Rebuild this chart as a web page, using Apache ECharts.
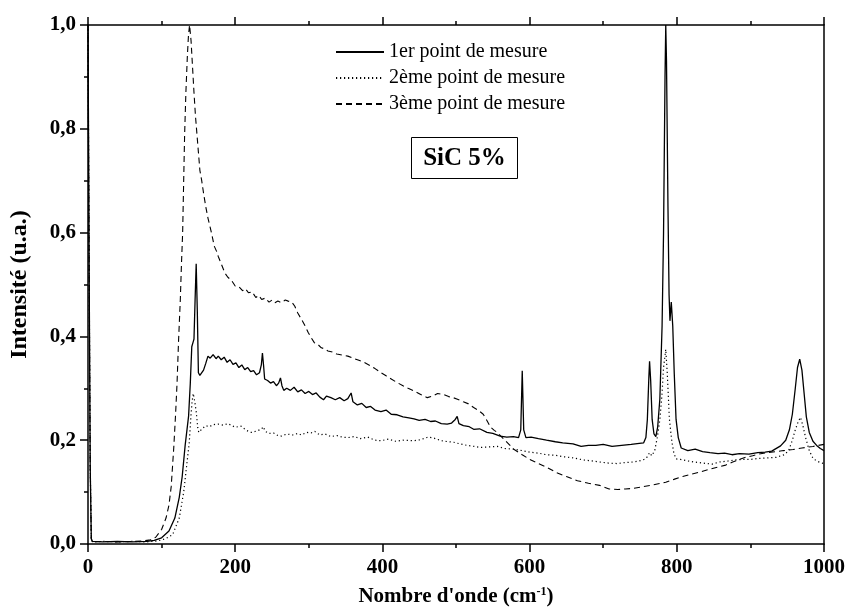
<!DOCTYPE html>
<html>
<head>
<meta charset="utf-8">
<script src="https://cdn.jsdelivr.net/npm/echarts@6/dist/echarts.min.js"></script>
<style>html,body{margin:0;padding:0;background:#fff}#c{width:848px;height:612px}</style>
</head>
<body>
<div id="c"></div>
<script>
// ---- data ----
const seriesNames = ['1er point de mesure', '2ème point de mesure', '3ème point de mesure'];
const xTicks = [0, 200, 400, 600, 800, 1000];
const yTicks = [0.0, 0.2, 0.4, 0.6, 0.8, 1.0];

const x1 = [0,1.5,3,4.5,6,20,40,60,80,90,100,110,118,124,128,132,136.7,139,141,143,144,145.5,147,148.5,150,152,154,157,160,163,166,170,174,177,181,185,189,193,197,201,205,209,213,217,221,225,229,233,235.5,237,238.5,240,244,248,252,256,259,261.5,263.5,266,270,275,280,285,290,295,300,305,310,315,320,324,330,336,342,348,353,357.5,360,366,372,378,384,390,398,405,412,420,428,436,443,450,458,465.5,472,480,488,494,499,501.6,504,510,518,524,532,542,550,560,569,578,585,588,590,592,595,602,612,623,635,645,659,670,680,690,700,712,725,738,749,755,758,760,762,763,764.5,766.5,769,771.5,774,777,780,782,784,785,786,788,789.5,790.7,792.5,794.5,796.5,799,802,806,815,825,835,845,856,865,875,885,898,910,920,929,941,948,953,957,961,964,967,970,973,976,980,985,990,995,1000];
const y1 = [1.0,0.55,0.15,0.01,0.005,0.004,0.005,0.004,0.005,0.007,0.012,0.025,0.05,0.09,0.13,0.19,0.247,0.31,0.38,0.39,0.395,0.47,0.54,0.45,0.33,0.325,0.322,0.335,0.348,0.362,0.358,0.365,0.357,0.362,0.355,0.36,0.35,0.355,0.346,0.349,0.34,0.345,0.336,0.34,0.332,0.334,0.326,0.33,0.345,0.368,0.345,0.318,0.315,0.31,0.313,0.305,0.31,0.32,0.305,0.296,0.3,0.296,0.302,0.293,0.297,0.29,0.294,0.288,0.291,0.283,0.278,0.285,0.282,0.278,0.282,0.276,0.28,0.291,0.274,0.268,0.271,0.263,0.265,0.258,0.255,0.258,0.25,0.249,0.245,0.243,0.241,0.238,0.24,0.236,0.237,0.232,0.231,0.233,0.24,0.246,0.232,0.228,0.226,0.221,0.222,0.215,0.213,0.208,0.206,0.207,0.205,0.22,0.334,0.22,0.205,0.206,0.203,0.2,0.197,0.195,0.193,0.188,0.19,0.19,0.192,0.188,0.19,0.192,0.194,0.195,0.205,0.24,0.32,0.352,0.315,0.24,0.212,0.207,0.225,0.28,0.42,0.6,0.9,1.0,0.93,0.65,0.48,0.43,0.466,0.42,0.33,0.24,0.205,0.185,0.18,0.183,0.178,0.176,0.174,0.175,0.172,0.174,0.173,0.176,0.177,0.179,0.189,0.2,0.22,0.25,0.3,0.34,0.356,0.335,0.29,0.245,0.215,0.198,0.19,0.184,0.18];

const x2 = [0,1.5,3,4.5,6,20,40,60,80,95,105,115,124,130,134,137.6,140,141.5,143,145,147,149,150.5,155,160,165,170,177,184,190,200,208,215,222,230,236,238,241,246,252,258,263,270,278,285,290,297,303,308,315,322,330,338,345,353,362,370,380,390,398,408,418,428,443,452,462,470,480,490,497,505,515,525,533,545,556,566,578,590,600,612,623,635,647,659,673,685,695,707,719,730,740,749,756,760,763,766,770,773.6,777,780,782,785,787,790,793,796,799,805,815,824,835,848,858,870,880,890,900,912,923,935,946,952,957,961,965,968,971,975,980,985,990,995,1000];
const y2 = [1.0,0.55,0.15,0.01,0.004,0.005,0.004,0.005,0.004,0.006,0.01,0.018,0.05,0.1,0.15,0.196,0.25,0.275,0.29,0.275,0.255,0.225,0.215,0.222,0.228,0.226,0.23,0.231,0.229,0.232,0.225,0.227,0.219,0.215,0.218,0.222,0.226,0.217,0.213,0.214,0.209,0.208,0.212,0.21,0.213,0.21,0.215,0.214,0.217,0.21,0.212,0.207,0.209,0.206,0.205,0.207,0.203,0.206,0.2,0.199,0.202,0.198,0.2,0.199,0.201,0.206,0.204,0.199,0.197,0.196,0.193,0.19,0.188,0.186,0.187,0.188,0.184,0.183,0.18,0.177,0.175,0.172,0.171,0.168,0.166,0.162,0.16,0.158,0.156,0.155,0.157,0.158,0.16,0.163,0.168,0.176,0.17,0.18,0.206,0.24,0.29,0.34,0.375,0.33,0.24,0.2,0.175,0.164,0.163,0.16,0.158,0.156,0.154,0.158,0.16,0.162,0.163,0.163,0.165,0.166,0.167,0.172,0.18,0.2,0.22,0.236,0.244,0.23,0.205,0.18,0.165,0.16,0.157,0.155];

const x3 = [0,1.5,3,4.5,6,20,40,60,75,85,92,100,106,110,113,116.5,119,121,123,125.4,127,128.6,130,131.3,133,135,136.5,138,140,142,144,146,148,150,152,154.5,157,160,163,166,168,171.5,175,177,181,186,190,195,200,205,210,214,218,223,228,232,236,241,246,250,254,258,263,268,272,277,281,285,290,295,299,303,307.5,312,317,322,326,332,338,345,353,360,368,375,383,390,398,405,412,420,428,435,443,452,461,468,475,483,490,496,502,510,517,524,530,537,542,547,552,556,565,572,578,590,600,612,623,636,650,665,680,695,708,720,730,740,752,765,775,785,797,808,818,830,842,855,866.5,876,885,893.5,903,911,922,935,945,958,970,985,1000];
const y3 = [1.0,0.55,0.15,0.01,0.004,0.005,0.004,0.005,0.006,0.008,0.013,0.028,0.05,0.075,0.11,0.185,0.25,0.31,0.39,0.47,0.54,0.6,0.7,0.79,0.87,0.94,0.98,1.0,0.97,0.92,0.87,0.825,0.79,0.755,0.72,0.7,0.676,0.65,0.628,0.61,0.598,0.574,0.563,0.554,0.54,0.522,0.514,0.508,0.497,0.496,0.488,0.492,0.484,0.486,0.475,0.479,0.471,0.474,0.466,0.47,0.465,0.468,0.465,0.47,0.468,0.466,0.458,0.445,0.433,0.42,0.408,0.398,0.388,0.385,0.378,0.376,0.372,0.37,0.366,0.364,0.362,0.358,0.354,0.35,0.344,0.338,0.33,0.324,0.318,0.311,0.305,0.3,0.295,0.288,0.282,0.285,0.29,0.288,0.284,0.282,0.279,0.274,0.27,0.263,0.258,0.25,0.238,0.225,0.219,0.215,0.202,0.192,0.183,0.172,0.163,0.155,0.148,0.138,0.13,0.122,0.117,0.113,0.106,0.105,0.106,0.107,0.11,0.113,0.116,0.119,0.125,0.13,0.134,0.138,0.143,0.148,0.152,0.158,0.163,0.167,0.17,0.173,0.176,0.178,0.18,0.182,0.185,0.188,0.192];

// ---- chart ----
const zip = (xs, ys) => xs.map((x, i) => [x, ys[i]]);
const FONT = 'Liberation Serif';
const chart = echarts.init(document.getElementById('c'), null, {renderer: 'canvas'});

const lineStyles = [
  {color: '#000', width: 1.3, type: 'solid'},
  {color: '#000', width: 1.2, type: [1.2, 2.8]},
  {color: '#000', width: 1.1, type: [6, 4]}
];
const series = [zip(x1, y1), zip(x2, y2), zip(x3, y3)].map((d, i) => ({
  name: seriesNames[i],
  type: 'line',
  data: d,
  symbol: 'none',
  showSymbol: false,
  lineStyle: lineStyles[i],
  itemStyle: {color: '#000'},
  emphasis: {disabled: true},
  animation: false,
  z: 3 - i
}));

const axisLine = {show: true, onZero: false, lineStyle: {color: '#000', width: 1.5}};
chart.setOption({
  animation: false,
  backgroundColor: '#fff',
  grid: {left: 85, right: 23, top: 25, bottom: 67, containLabel: false},
  legend: {
    orient: 'vertical',
    left: 330,
    top: 37,
    itemWidth: 48,
    itemHeight: 14,
    itemGap: 6,
    selectedMode: false,
    itemStyle: {color: 'rgba(0,0,0,0)', borderWidth: 0, opacity: 0},
    textStyle: {fontFamily: FONT, fontSize: 20, color: '#000', padding: [0, 0, 0, 0]},
    data: seriesNames
  },
  xAxis: [
    {
      type: 'value', min: xTicks[0], max: xTicks[xTicks.length - 1], interval: 200,
      position: 'bottom',
      axisLine,
      axisTick: {show: true, inside: false, length: 8, lineStyle: {color: '#000', width: 1.5}},
      minorTick: {show: true, splitNumber: 2, length: 4, lineStyle: {color: '#000', width: 1.5}},
      splitLine: {show: false},
      axisLabel: {fontFamily: FONT, fontWeight: 'bold', fontSize: 21, color: '#000', margin: 13,
        formatter: v => String(v)},
      name: "Nombre d'onde (cm{sup|-1})",
      nameLocation: 'middle',
      nameGap: 42,
      nameTextStyle: {
        fontFamily: FONT, fontWeight: 'bold', fontSize: 21, color: '#000',
        rich: {sup: {fontFamily: FONT, fontWeight: 'bold', fontSize: 12, color: '#000', verticalAlign: 'top', padding: [0, 0, 8, 0]}}
      }
    },
    {
      type: 'value', min: xTicks[0], max: xTicks[xTicks.length - 1], interval: 200,
      position: 'top',
      axisLine,
      axisTick: {show: true, inside: false, length: 8, lineStyle: {color: '#000', width: 1.5}},
      minorTick: {show: true, splitNumber: 2, length: 4, lineStyle: {color: '#000', width: 1.5}},
      splitLine: {show: false},
      axisLabel: {show: false}
    }
  ],
  yAxis: [
    {
      type: 'value', min: yTicks[0], max: yTicks[yTicks.length - 1], interval: 0.2,
      position: 'left',
      axisLine,
      axisTick: {show: true, inside: false, length: 8, lineStyle: {color: '#000', width: 1.5}},
      minorTick: {show: true, splitNumber: 2, length: 4, lineStyle: {color: '#000', width: 1.5}},
      splitLine: {show: false},
      axisLabel: {
        fontFamily: FONT, fontWeight: 'bold', fontSize: 21, color: '#000', margin: 12,
        formatter: v => v.toFixed(1).replace('.', ',')
      },
      name: 'Intensité (u.a.)',
      nameLocation: 'middle',
      nameRotate: 90,
      nameGap: 56,
      nameTextStyle: {fontFamily: FONT, fontWeight: 'bold', fontSize: 24, color: '#000'}
    },
    {
      type: 'value', min: yTicks[0], max: yTicks[yTicks.length - 1], interval: 0.2,
      position: 'right',
      axisLine,
      axisTick: {show: false},
      splitLine: {show: false},
      axisLabel: {show: false}
    }
  ],
  graphic: [
    {
      type: 'group', left: 411, top: 137,
      children: [
        {type: 'rect', shape: {x: 0, y: 0, width: 106, height: 41}, style: {fill: '#fff', stroke: '#000', lineWidth: 1}},
        {type: 'text', style: {x: 53, y: 21, text: 'SiC 5%', font: 'bold 25px "Liberation Serif"', fill: '#000', textAlign: 'center', textVerticalAlign: 'middle'}}
      ]
    }
  ],
  series
});
</script>
</body>
</html>
